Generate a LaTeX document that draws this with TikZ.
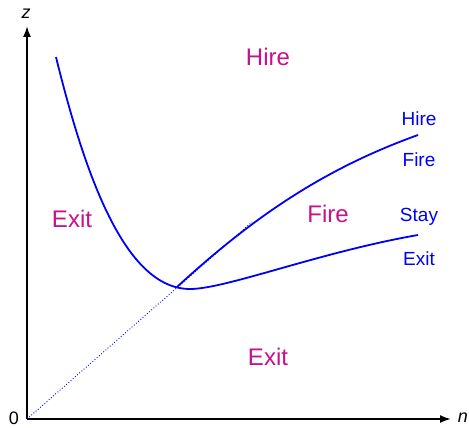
\documentclass[tikz,border=0pt]{standalone}
\usepackage{fontspec}
\setmainfont{Liberation Sans}
\usetikzlibrary{arrows.meta}
\definecolor{regionc}{RGB}{200,16,140}
\definecolor{curvec}{RGB}{0,0,245}
\begin{document}
\begin{tikzpicture}[x=1pt,y=-1pt,
  axis/.style={line width=1.8pt,-{Latex[length=11pt,width=8pt]}},
  curve/.style={line width=1.8pt,curvec},
  region/.style={regionc,font=\fontsize{24}{28}\selectfont,inner sep=0pt,text depth=0pt},
  boundlab/.style={curvec,font=\fontsize{19}{23}\selectfont,inner sep=0pt,text depth=0pt},
  axlab/.style={font=\fontsize{18}{22}\selectfont,inner sep=0pt}]
\useasboundingbox (0,0) rectangle (469,428);
\coordinate (O) at (27,419);
\coordinate (ytip) at (27,26);
\coordinate (xtip) at (451,419);
\coordinate (J) at (177,287);
\coordinate (dend) at (252,222);
\coordinate (L0) at (56,57);
\coordinate (M) at (190,289);
\coordinate (R1) at (418,235);
\coordinate (R2) at (418,135);
% dotted ray
\draw[curvec,dotted,line width=0.9pt] (O) -- (dend);
% axes
\draw[axis] (O) -- (ytip);
\draw[axis] (O) -- (xtip);
\node[axlab] (zl) at (26,14) {\itshape z};
\node[axlab] (nl) at (463,418) {\itshape n};
\node[axlab] (zero) at (14,418) {0};
% left and lower curve
\draw[curve] (L0) .. controls (85,175) and (125,289) .. (M)
  .. controls (226,289) and (320,252) .. (R1);
% upper curve
\draw[curve] (J) .. controls (257,213.4) and (328,167.4) .. (R2);
% region labels
\node[region] (hire) at (268,57) {Hire};
\node[region] (exitl) at (72,219) {Exit};
\node[region] (fire) at (328,214) {Fire};
\node[region] (exitb) at (268,357) {Exit};
% boundary labels
\node[boundlab] (bh) at (419,119) {Hire};
\node[boundlab] (bf) at (419,160) {Fire};
\node[boundlab] (bs) at (419,215) {Stay};
\node[boundlab] (be) at (419,259) {Exit};
\end{tikzpicture}
\end{document}
